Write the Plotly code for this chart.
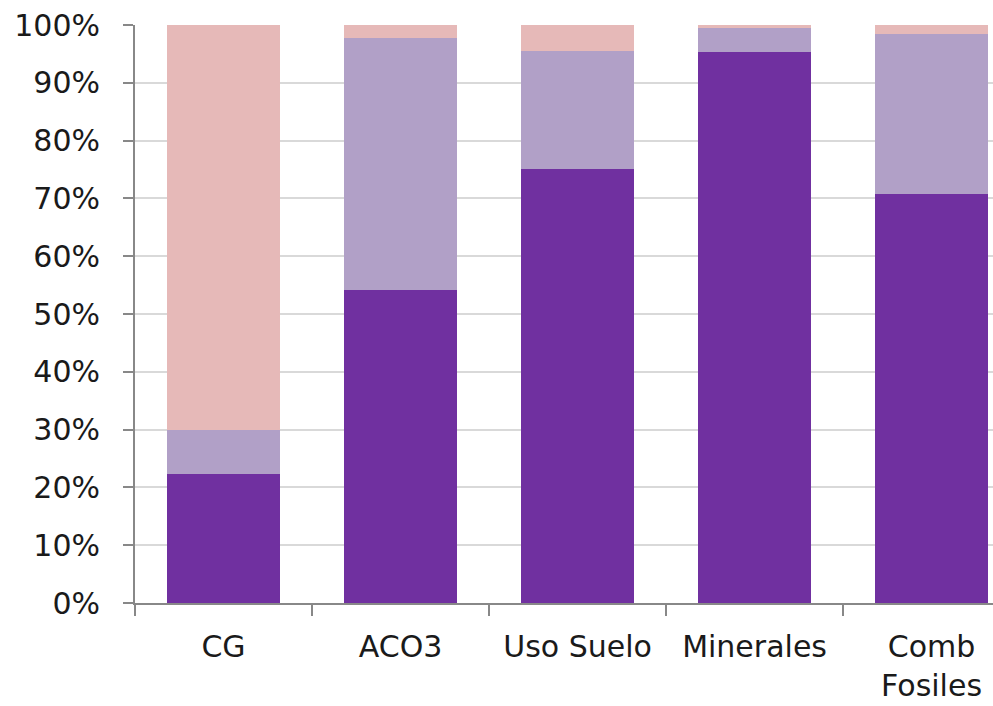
import plotly.graph_objects as go

categories = ["CG", "ACO3", "Uso Suelo", "Minerales", "Comb<br>Fosiles"]
serie_oscura = [22.3, 54.2, 75.1, 95.4, 70.7]
serie_clara = [7.6, 43.6, 20.4, 4.1, 27.7]
serie_rosa = [70.1, 2.2, 4.5, 0.5, 1.6]
y_ticks = [0, 10, 20, 30, 40, 50, 60, 70, 80, 90, 100]
y_tick_labels = ["0%", "10%", "20%", "30%", "40%", "50%", "60%", "70%", "80%", "90%", "100%"]

FONT = "DejaVu Sans"

fig = go.Figure()
for name, vals, col in [("Serie 1", serie_oscura, "#7030A0"),
                        ("Serie 2", serie_clara, "#B1A0C7"),
                        ("Serie 3", serie_rosa, "#E6B9B8")]:
    fig.add_trace(go.Bar(x=categories, y=vals, name=name,
                         marker=dict(color=col, line=dict(width=0))))

fig.update_layout(
    barmode="stack",
    bargap=0.36,
    width=993, height=706,
    margin=dict(l=135, r=0, t=25, b=103, autoexpand=False),
    paper_bgcolor="white", plot_bgcolor="white",
    showlegend=False,
    font=dict(family=FONT, size=30, color="#1a1a1a"),
)
fig.update_xaxes(
    range=[-0.5, 4.347],
    automargin=False,
    showline=True, linecolor="#888888", linewidth=2,
    ticks="outside", tickson="boundaries", ticklen=11, tickcolor="#888888", tickwidth=2,
    showgrid=False,
    ticklabelstandoff=16,
    ticklabeloverflow="allow",
    tickfont=dict(family=FONT, size=30, color="#1a1a1a"),
)
fig.update_yaxes(
    range=[0, 100], tickvals=y_ticks, ticktext=y_tick_labels,
    automargin=False,
    showline=True, linecolor="#888888", linewidth=2,
    ticks="outside", ticklen=10, tickcolor="#888888", tickwidth=2,
    showgrid=True, gridcolor="#d9d9d9", gridwidth=2,
    zeroline=False,
    ticklabelstandoff=17,
    ticklabeloverflow="allow",
    tickfont=dict(family=FONT, size=30, color="#1a1a1a"),
)
fig.write_html("out.html", config={"displayModeBar": False},
               post_script="document.body.style.margin='0';")
